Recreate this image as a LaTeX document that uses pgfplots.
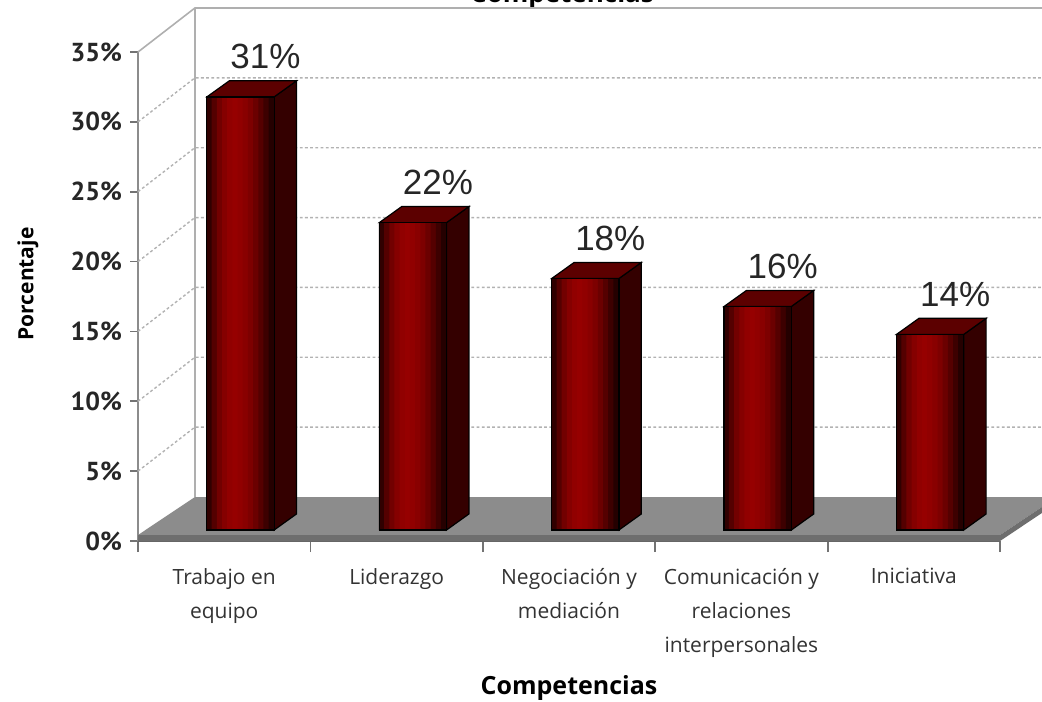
\documentclass[border=0pt]{standalone}
\usepackage{fontspec}
\setmainfont{Open Sans}
\newfontfamily\arial{Liberation Sans}
\newfontfamily\ptsans{PT Sans}
\usepackage{pgfplots}
\usepackage{pgfplotstable}
\pgfplotsset{compat=1.18}

\definecolor{frontmid}{RGB}{150,0,0}
\definecolor{frontdark}{RGB}{30,0,0}
\definecolor{sidec}{RGB}{52,0,0}
\definecolor{topc}{RGB}{92,0,0}
\definecolor{floortop}{RGB}{140,140,140}
\definecolor{floorfront}{RGB}{110,110,110}
\definecolor{wallline}{RGB}{175,175,175}

% valores (%) por competencia; x = centro de la barra
\pgfplotstableread{
x   v
0.5 31
1.5 22
2.5 18
3.5 16
4.5 14
}\datos

\pgfplotsset{
  franja/.style={ybar, bar width=0.034, bar shift=#1, draw=none},
  borde/.style={draw=black, line width=0.6pt},
}

\begin{document}
\begin{tikzpicture}
\begin{axis}[
  width=431pt, height=244.5pt, scale only axis,
  xmin=-0.0945, xmax=4.9055, ymin=-0.787, ymax=34.213,
  clip=false,
  axis x line*=bottom, axis y line*=left,
  x axis line style={-, draw=black!60, line width=1.3pt},
  y axis line style={-, draw=black!45, line width=1.1pt},
  tick align=outside,
  major tick length=4pt, minor tick length=5.5pt,
  every tick/.style={draw=black!55, line width=0.9pt},
  every major x tick/.append style={draw=none},
  ytick={-0.787,4.213,9.213,14.213,19.213,24.213,29.213,34.213},
  yticklabels={0\%,5\%,10\%,15\%,20\%,25\%,30\%,35\%},
  yticklabel style={font=\ptsans\bfseries\fontsize{13}{13}\selectfont, text=black!85, xshift=-0.5pt},
  xtick={0.4055,1.4055,2.4055,3.4055,4.4055},
  xticklabels={{Trabajo en\\equipo},{Liderazgo},{Negociación y\\mediación},{Comunicación y\\relaciones\\interpersonales},{Iniciativa}},
  minor xtick={-0.0945,0.9055,1.9055,2.9055,3.9055,4.9055},
  xticklabel style={align=center, font=\fontsize{10.5}{17}\selectfont, text=black!80, yshift=-6pt},
  xlabel={Competencias},
  ylabel={Porcentaje},
  xlabel style={at={(axis description cs:0.5,-0.3)}, anchor=center, font=\bfseries\fontsize{12.5}{14}\selectfont},
  ylabel style={at={(axis description cs:-0.1276,0.5256)}, anchor=center, rotate=0, font=\bfseries\fontsize{10.5}{12}\selectfont},
  /pgf/number format/assume math mode=true,
]
% pared lateral y de fondo
\addplot[wallline, line width=0.8pt] coordinates {(-0.0945,34.213)(0.2355,37.363)(5.3,37.363)};
\addplot[wallline, line width=0.8pt] coordinates {(0.2355,2.363)(0.2355,37.363)};
\pgfplotsinvokeforeach{1,...,6}{
  \addplot[black!30, line width=0.7pt, dash pattern=on 1.4pt off 1.2pt]
    coordinates {(-0.0945,{5*#1-0.787})(0.2355,{5*#1+2.363})(5.3,{5*#1+2.363})};
}
% suelo
\addplot[fill=floortop, draw=none] coordinates {(-0.0945,-0.357)(4.9055,-0.357)(5.2355,2.363)(0.2355,2.363)} -- cycle;
\addplot[fill=floorfront, draw=none] coordinates {(-0.0945,-0.787)(4.9055,-0.787)(4.9055,-0.357)(-0.0945,-0.357)} -- cycle;
\addplot[fill=floorfront, draw=none] coordinates {(4.9055,-0.787)(5.2355,1.933)(5.2355,2.363)(4.9055,-0.357)} -- cycle;

% caras laterales
\addplot[borde, fill=sidec] coordinates {(0.695,0)(0.825,1.15)(0.825,32.15)(0.695,31)} -- cycle;
\addplot[borde, fill=sidec] coordinates {(1.695,0)(1.825,1.15)(1.825,23.15)(1.695,22)} -- cycle;
\addplot[borde, fill=sidec] coordinates {(2.695,0)(2.825,1.15)(2.825,19.15)(2.695,18)} -- cycle;
\addplot[borde, fill=sidec] coordinates {(3.695,0)(3.825,1.15)(3.825,17.15)(3.695,16)} -- cycle;
\addplot[borde, fill=sidec] coordinates {(4.695,0)(4.825,1.15)(4.825,15.15)(4.695,14)} -- cycle;
% caras superiores
\addplot[borde, fill=topc] coordinates {(0.305,31)(0.435,32.15)(0.825,32.15)(0.695,31)} -- cycle;
\addplot[borde, fill=topc] coordinates {(1.305,22)(1.435,23.15)(1.825,23.15)(1.695,22)} -- cycle;
\addplot[borde, fill=topc] coordinates {(2.305,18)(2.435,19.15)(2.825,19.15)(2.695,18)} -- cycle;
\addplot[borde, fill=topc] coordinates {(3.305,16)(3.435,17.15)(3.825,17.15)(3.695,16)} -- cycle;
\addplot[borde, fill=topc] coordinates {(4.305,14)(4.435,15.15)(4.825,15.15)(4.695,14)} -- cycle;

% caras frontales: franjas verticales de las mismas barras (sombreado cilíndrico)
\addplot[franja=-0.180, fill=frontmid!15!frontdark] table[x=x, y=v] {\datos};
\addplot[franja=-0.150, fill=frontmid!45!frontdark] table[x=x, y=v] {\datos};
\addplot[franja=-0.120, fill=frontmid!70!frontdark] table[x=x, y=v] {\datos};
\addplot[franja=-0.090, fill=frontmid!86!frontdark] table[x=x, y=v] {\datos};
\addplot[franja=-0.060, fill=frontmid!96!frontdark] table[x=x, y=v] {\datos};
\addplot[franja=-0.030, fill=frontmid] table[x=x, y=v] {\datos};
\addplot[franja=0.000, fill=frontmid!96!frontdark] table[x=x, y=v] {\datos};
\addplot[franja=0.030, fill=frontmid!89!frontdark] table[x=x, y=v] {\datos};
\addplot[franja=0.060, fill=frontmid!79!frontdark] table[x=x, y=v] {\datos};
\addplot[franja=0.090, fill=frontmid!64!frontdark] table[x=x, y=v] {\datos};
\addplot[franja=0.120, fill=frontmid!46!frontdark] table[x=x, y=v] {\datos};
\addplot[franja=0.150, fill=frontmid!26!frontdark] table[x=x, y=v] {\datos};
\addplot[franja=0.180, fill=frontmid!6!frontdark] table[x=x, y=v] {\datos};

% barras (contorno) con etiquetas de valor
\addplot[ybar, bar width=0.39, bar shift=0pt, draw=black, line width=0.6pt, fill=none,
  nodes near coords={\pgfmathprintnumber{\pgfplotspointmeta}\%},
  every node near coord/.append style={font=\arial\fontsize{17.5}{18}\selectfont, text=black!85, inner sep=0pt, anchor=south, xshift=12.5pt, yshift=13.5pt},
  point meta=y]
  table[x=x, y=v] {\datos};
\node[anchor=base, font=\bfseries\fontsize{13}{14}\selectfont] at (axis cs:2.365,37.75) {Competencias};
\addplot[wallline, line width=0.8pt] coordinates {(0.2355,37.363)(5.3,37.363)};
\coordinate (bl) at (axis cs:-0.895,-12.24);
\coordinate (tr) at (axis cs:5.149,37.936);
\end{axis}
\pgfresetboundingbox
\path[use as bounding box] (bl) rectangle (tr);
\end{tikzpicture}
\end{document}
